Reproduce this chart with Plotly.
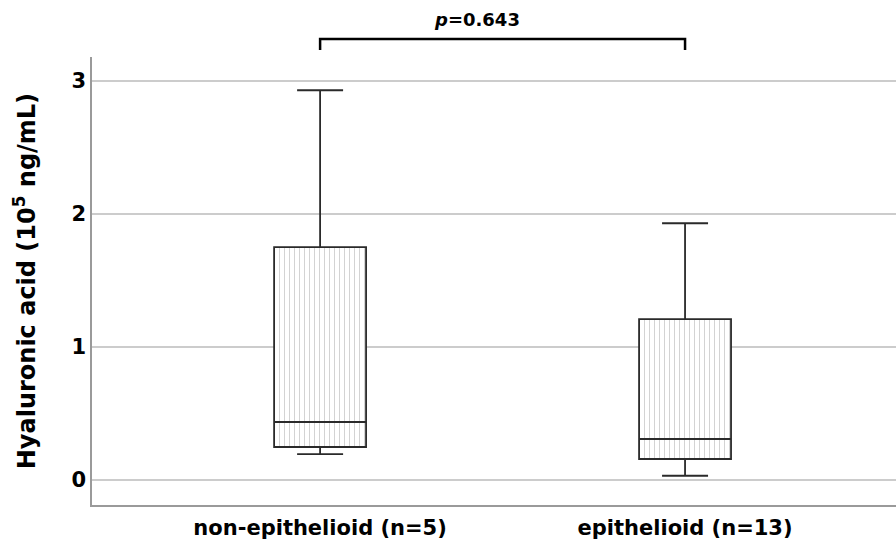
import plotly.graph_objects as go

categories = ["non-epithelioid (n=5)", "epithelioid (n=13)"]
positions = [0, 1]
lower_whisker = [0.195, 0.032]
q1 = [0.248, 0.158]
median = [0.436, 0.308]
q3 = [1.75, 1.21]
upper_whisker = [2.93, 1.93]
p_text = "<i>p</i>=0.643"
y_ticks = [0, 1, 2, 3]

FONT = "DejaVu Sans"
BOXW = 0.252

fig = go.Figure()

# dotted fill of the boxes
fig.add_trace(go.Bar(
    x=positions,
    base=q1,
    y=[b - a for a, b in zip(q1, q3)],
    width=BOXW,
    marker=dict(color="white", line=dict(width=0),
                pattern=dict(shape="|", fgcolor="#a8a8a8", bgcolor="white",
                             size=5, solidity=0.2)),
    hoverinfo="skip",
    showlegend=False,
))

fig.add_trace(go.Box(
    x=positions,
    q1=q1, median=median, q3=q3,
    lowerfence=lower_whisker, upperfence=upper_whisker,
    width=BOXW,
    whiskerwidth=0.5,
    fillcolor="rgba(0,0,0,0)",
    line=dict(color="#2a2a2a", width=1.8),
    boxpoints=False,
    showlegend=False,
))

# significance bracket
fig.add_shape(type="path", xref="x", yref="paper",
              path="M 0,1.0156 L 0,1.040 L 1,1.040 L 1,1.0156",
              line=dict(color="black", width=2.5))

fig.add_annotation(x=0.43, xref="x", y=1.083, yref="paper", text=p_text,
                   showarrow=False, xanchor="center", yanchor="middle",
                   font=dict(family=FONT, size=18, color="black", weight="bold"))

fig.add_annotation(x=-0.083, xref="paper", y=0.5, yref="paper",
                   text="Hyaluronic acid (10<sup>5</sup> ng/mL)", textangle=-90,
                   showarrow=False, xanchor="center", yanchor="middle",
                   font=dict(family=FONT, size=24, color="black", weight="bold"))

fig.update_layout(
    width=896, height=541,
    margin=dict(l=92, r=0, t=57, b=36),
    plot_bgcolor="white", paper_bgcolor="white",
    showlegend=False,
    xaxis=dict(range=[-0.625, 1.578], tickvals=positions, ticktext=categories,
               showgrid=False, zeroline=False, showline=True,
               linecolor="#9a9a9a", linewidth=1.5, ticks="",
               ticklabelstandoff=3,
               tickfont=dict(family=FONT, size=21, color="black", weight="bold")),
    yaxis=dict(range=[-0.188, 3.18], tickvals=y_ticks,
               showgrid=True, gridcolor="#cccccc", gridwidth=1.5,
               zeroline=False, showline=True, linecolor="#9a9a9a", linewidth=1.5,
               ticks="",
               tickfont=dict(family=FONT, size=21, color="black", weight="bold")),
)

fig.write_html("out.html",
               config={"displayModeBar": False},
               post_script="document.body.style.margin='0';"
                           "document.body.style.overflow='hidden';")
